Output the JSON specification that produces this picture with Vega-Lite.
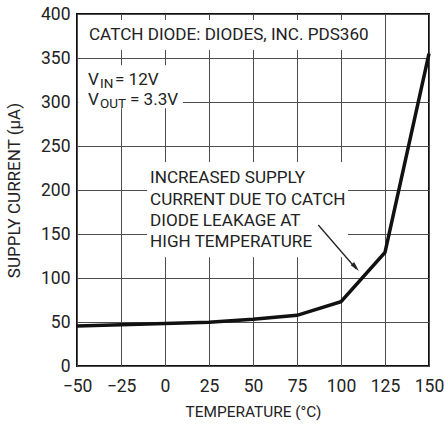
{
  "$schema": "https://vega.github.io/schema/vega-lite/v6.json",
  "width": 352,
  "height": 352,
  "autosize": {"type": "none"},
  "padding": {"left": 77, "top": 14, "right": 16, "bottom": 59},
  "background": "white",
  "config": {
    "font": "Roboto",
    "view": {"stroke": "#111", "strokeWidth": 2},
    "axis": {
      "domain": false,
      "ticks": false,
      "tickSize": 0,
      "grid": true,
      "gridColor": "#4d4d4d",
      "gridWidth": 1,
      "gridOpacity": 1,
      "labelFont": "Roboto",
      "titleFont": "Roboto",
      "labelFontSize": 17.5,
      "labelColor": "#222",
      "labelOverlap": false,
      "labelFlush": false,
      "titleFontWeight": "normal",
      "titleColor": "#222"
    },
    "text": {"font": "Roboto", "color": "#222", "fontSize": 17.1}
  },
  "data": {
    "values": [
      {"temp": -50, "current": 45.5},
      {"temp": -25, "current": 46.8},
      {"temp": 0, "current": 48.4},
      {"temp": 25, "current": 49.6},
      {"temp": 50, "current": 53},
      {"temp": 75, "current": 57.6},
      {"temp": 100, "current": 73},
      {"temp": 125, "current": 129},
      {"temp": 150, "current": 355}
    ]
  },
  "layer": [
    {
      "mark": {"type": "line", "color": "#111", "strokeWidth": 3.5, "strokeJoin": "miter"},
      "encoding": {
        "x": {
          "field": "temp",
          "type": "quantitative",
          "scale": {"domain": [-50, 150], "nice": false, "zero": false},
          "axis": {"values": [-50, -25, 0, 25, 50, 75, 100, 125, 150], "title": "TEMPERATURE (°C)", "titleFontSize": 15.4, "labelPadding": 11, "titlePadding": 10}
        },
        "y": {
          "field": "current",
          "type": "quantitative",
          "scale": {"domain": [0, 400], "nice": false},
          "axis": {"values": [0, 50, 100, 150, 200, 250, 300, 350, 400], "title": "SUPPLY CURRENT (µA)", "titleFontSize": 17, "labelPadding": 7, "titlePadding": 17}
        }
      }
    },
    {
      "data": {"values": [{}]},
      "mark": {"type": "rect", "fill": "white"},
      "encoding": {"x": {"datum": -49}, "x2": {"datum": 119.3}, "y": {"datum": 393.2}, "y2": {"datum": 359.1}}
    },
    {
      "data": {"values": [{}]},
      "mark": {"type": "rect", "fill": "white"},
      "encoding": {"x": {"datum": -49.3}, "x2": {"datum": 10.2}, "y": {"datum": 341.9}, "y2": {"datum": 293}}
    },
    {
      "data": {"values": [{}]},
      "mark": {"type": "rect", "fill": "white"},
      "encoding": {"x": {"datum": -10.2}, "x2": {"datum": 104}, "y": {"datum": 231.7}, "y2": {"datum": 123.7}}
    },
    {
      "data": {"values": [{}]},
      "mark": {"type": "text", "align": "left", "baseline": "alphabetic"},
      "encoding": {"x": {"datum": -43.2}, "y": {"datum": 370.5}, "text": {"value": "CATCH DIODE: DIODES, INC. PDS360"}}
    },
    {
      "data": {"values": [{}]},
      "mark": {"type": "text", "align": "left", "baseline": "alphabetic"},
      "encoding": {"x": {"datum": -43.75}, "y": {"datum": 319.3}, "text": {"value": "V"}}
    },
    {
      "data": {"values": [{}]},
      "mark": {"type": "text", "align": "left", "baseline": "alphabetic", "fontSize": 13.5, "dx": 12, "dy": 3},
      "encoding": {"x": {"datum": -43.75}, "y": {"datum": 319.3}, "text": {"value": "IN"}}
    },
    {
      "data": {"values": [{}]},
      "mark": {"type": "text", "align": "left", "baseline": "alphabetic", "dx": 27},
      "encoding": {"x": {"datum": -43.75}, "y": {"datum": 319.3}, "text": {"value": "= 12V"}}
    },
    {
      "data": {"values": [{}]},
      "mark": {"type": "text", "align": "left", "baseline": "alphabetic"},
      "encoding": {"x": {"datum": -43.75}, "y": {"datum": 296.6}, "text": {"value": "V"}}
    },
    {
      "data": {"values": [{}]},
      "mark": {"type": "text", "align": "left", "baseline": "alphabetic", "fontSize": 13.5, "dx": 12, "dy": 3},
      "encoding": {"x": {"datum": -43.75}, "y": {"datum": 296.6}, "text": {"value": "OUT"}}
    },
    {
      "data": {"values": [{}]},
      "mark": {"type": "text", "align": "left", "baseline": "alphabetic", "dx": 42},
      "encoding": {"x": {"datum": -43.75}, "y": {"datum": 296.6}, "text": {"value": "= 3.3V"}}
    },
    {
      "data": {"values": [{}]},
      "mark": {"type": "text", "align": "left", "baseline": "alphabetic", "lineHeight": 21.3},
      "encoding": {"x": {"datum": -8.5}, "y": {"datum": 207.6}, "text": {"value": ["INCREASED SUPPLY", "CURRENT DUE TO CATCH", "DIODE LEAKAGE AT", "HIGH TEMPERATURE"]}}
    },
    {
      "data": {"values": [{}]},
      "mark": {"type": "rule", "color": "#222", "strokeWidth": 1.3},
      "encoding": {"x": {"datum": 87.1}, "y": {"datum": 160.2}, "x2": {"datum": 108.6}, "y2": {"datum": 110.5}}
    },
    {
      "data": {"values": [{}]},
      "mark": {"type": "point", "shape": "M0,0L0.38,1.6L-0.38,1.6Z", "filled": true, "color": "#222", "opacity": 1, "size": 150, "angle": 138},
      "encoding": {"x": {"datum": 110.2}, "y": {"datum": 108}}
    }
  ]
}
